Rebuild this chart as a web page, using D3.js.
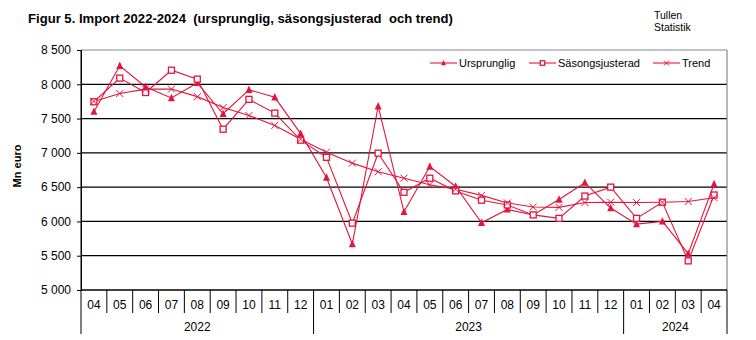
<!DOCTYPE html>
<html><head><meta charset="utf-8">
<script src="https://cdn.jsdelivr.net/npm/d3@7"></script>
<style>
body{margin:0;background:#fff;}
svg{display:block;font-family:"Liberation Sans",Arial,sans-serif;}
</style></head>
<body><svg id="c" width="756" height="340"></svg>
<script>
const months = ["04","05","06","07","08","09","10","11","12","01","02","03","04","05","06","07","08","09","10","11","12","01","02","03","04"];
const years = [{label:"2022", start:0, end:9},{label:"2023", start:9, end:21},{label:"2024", start:21, end:25}];
const ursprunglig = [7600,8270,7960,7800,8020,7570,7920,7810,7280,6640,5670,7680,6140,6800,6510,5980,6175,6095,6320,6565,6195,5960,6000,5530,6545];
const sasongsjusterad = [7745,8090,7880,8205,8075,7345,7780,7580,7185,6935,5975,6995,6425,6630,6445,6310,6240,6095,6045,6370,6500,6045,6280,5425,6385];
const trend = [7750,7865,7930,7930,7820,7660,7545,7400,7200,7010,6850,6725,6630,6535,6470,6380,6270,6210,6205,6275,6280,6275,6280,6290,6345];
const yTicks = [5000,5500,6000,6500,7000,7500,8000,8500];
const seriesNames = ["Ursprunglig","Säsongsjusterad","Trend"];

const color = "#E4143C";
const svg = d3.select("#c");
const L = 81, R = 727, T = 50, B = 290;
const idx = months.map((d,i)=>i);
const x = d3.scaleBand().domain(idx).range([L,R]).padding(0);
const y = d3.scaleLinear().domain([5000,8500]).range([B,T]);
const loc = d3.formatLocale({decimal:",",thousands:" ",grouping:[3],currency:["",""]});
const fmt = loc.format(",d");

// title
svg.append("text").attr("x",28).attr("y",23).attr("font-weight","bold").attr("font-size",13.1)
  .style("white-space","pre").text("Figur 5. Import 2022-2024  (ursprunglig, säsongsjusterad  och trend)");
svg.append("text").attr("x",654).attr("y",19).attr("font-size",10.5).text("Tullen");
svg.append("text").attr("x",654).attr("y",31).attr("font-size",10.5).text("Statistik");

// gridlines
svg.append("g").selectAll("line").data(yTicks.filter(d=>d>5000 && d<8500)).join("line")
  .attr("x1",L).attr("x2",R).attr("y1",d=>y(d)).attr("y2",d=>y(d)).attr("stroke","#000").attr("stroke-width",1.3);
// top & right border
svg.append("line").attr("x1",L).attr("x2",R).attr("y1",T).attr("y2",T).attr("stroke","#888").attr("stroke-width",1.2);
svg.append("line").attr("x1",R).attr("x2",R).attr("y1",T).attr("y2",B).attr("stroke","#888").attr("stroke-width",1.2);

// y axis
const ya = svg.append("g").attr("transform",`translate(${L},0)`)
  .call(d3.axisLeft(y).tickValues(yTicks).tickFormat(fmt).tickSize(4).tickPadding(6));
ya.select(".domain").attr("stroke","#000");
ya.selectAll("text").attr("font-size",12).attr("fill","#000").attr("font-family","Liberation Sans, Arial, sans-serif");
ya.selectAll(".tick line").attr("stroke","#000");
svg.append("line").attr("x1",L).attr("x2",L).attr("y1",T).attr("y2",334).attr("stroke","#000");

// x axis baseline
svg.append("line").attr("x1",L).attr("x2",R).attr("y1",B).attr("y2",B).attr("stroke","#000").attr("stroke-width",1.3);
// category separators
const seps = d3.range(1, months.length);
const yearBounds = years.map(d=>d.start).concat([months.length]);
svg.append("g").selectAll("line").data(seps).join("line")
  .attr("x1",d=>x(d)).attr("x2",d=>x(d)).attr("y1",B)
  .attr("y2",d=>yearBounds.includes(d)?334:313).attr("stroke","#000");
svg.append("line").attr("x1",R).attr("x2",R).attr("y1",B).attr("y2",334).attr("stroke","#000");
svg.append("g").selectAll("text").data(idx).join("text")
  .attr("x",d=>x(d)+x.bandwidth()/2).attr("y",309).attr("text-anchor","middle").attr("font-size",12)
  .text(d=>months[d]);
svg.append("g").selectAll("text").data(years).join("text")
  .attr("x",d=>(x(d.start)+ (d.end<months.length? x(d.end): R))/2).attr("y",331).attr("text-anchor","middle").attr("font-size",12)
  .text(d=>d.label);

// y label
svg.append("text").attr("transform","translate(21,166) rotate(-90)").attr("text-anchor","middle")
  .attr("font-weight","bold").attr("font-size",11).text("Mn euro");

const cx = i=>x(i)+x.bandwidth()/2;
const line = d3.line().x((d,i)=>cx(i)).y(d=>y(d));
const data = [ursprunglig, sasongsjusterad, trend];
data.forEach(s=>{
  svg.append("path").datum(s).attr("d",line).attr("fill","none").attr("stroke",color).attr("stroke-width",1.1);
});
function triangle(g, px, py, s){
  g.append("path").attr("d",`M${px},${py-s*0.6}L${px+s/2},${py+s*0.45}L${px-s/2},${py+s*0.45}Z`).attr("fill",color);
}
function square(g, px, py, s){
  g.append("rect").attr("x",px-s/2).attr("y",py-s/2).attr("width",s).attr("height",s).attr("fill","#fff").attr("stroke",color).attr("stroke-width",1.3);
}
function cross(g, px, py, s){
  g.append("path").attr("d",`M${px-s/2},${py-s/2}L${px+s/2},${py+s/2}M${px-s/2},${py+s/2}L${px+s/2},${py-s/2}`).attr("stroke",color).attr("stroke-width",1);
}
const mg = svg.append("g");
ursprunglig.forEach((v,i)=>triangle(mg,cx(i),y(v),7));
sasongsjusterad.forEach((v,i)=>square(mg,cx(i),y(v),6));
trend.forEach((v,i)=>cross(mg,cx(i),y(v),7));

// legend
const lg = svg.append("g");
const legX = [430,529,653];
const markers = [triangle, square, cross];
const msz = [5,4.5,5];
seriesNames.forEach((n,i)=>{
  lg.append("line").attr("x1",legX[i]).attr("x2",legX[i]+27).attr("y1",63).attr("y2",63).attr("stroke",color).attr("stroke-width",1.1);
  markers[i](lg, legX[i]+13.5, 63, msz[i]);
  lg.append("text").attr("x",legX[i]+29).attr("y",67).attr("font-size",11).text(n);
});
</script></body></html>
